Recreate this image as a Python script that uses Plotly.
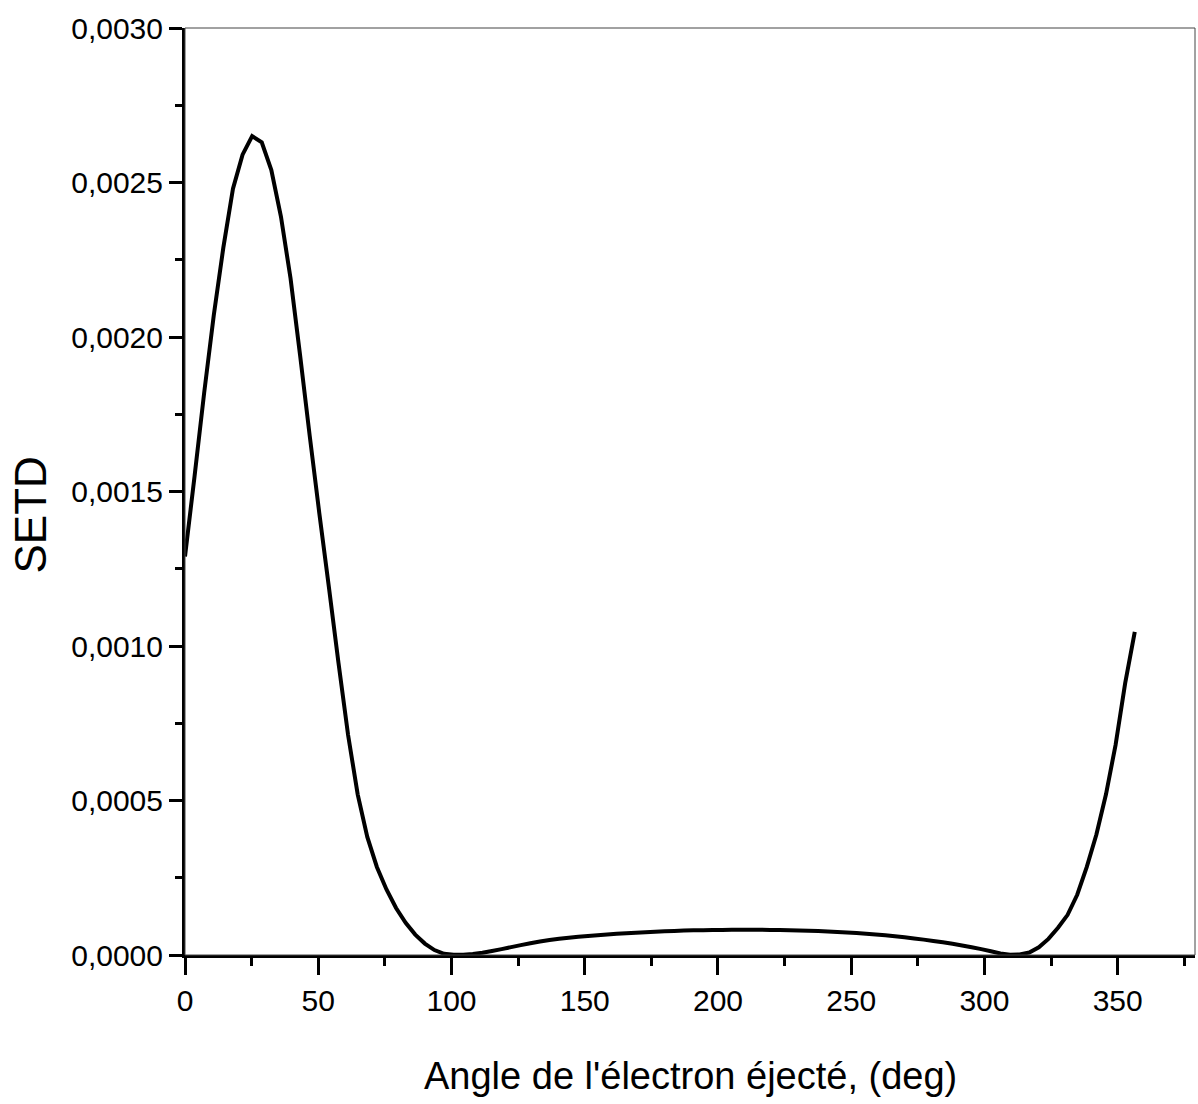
import plotly.graph_objects as go

# Angle of ejected electron (deg), sampled every 3.6 deg
angle_deg = [round(i * 3.6, 1) for i in range(100)]

# SETD values
setd = [
    0.00129, 0.00155, 0.00182, 0.00207, 0.00229, 0.00248, 0.00259, 0.00265, 0.00263, 0.00254,
    0.00239, 0.00219, 0.00194, 0.00168, 0.00143, 0.00119, 0.000945, 0.000712, 0.000520, 0.000382,
    0.000285, 0.000212, 0.000152, 0.000104, 0.000066, 0.000037, 0.000016, 0.000004, 0.0000005, 0.0000010,
    0.0000035, 0.0000075, 0.0000130, 0.0000190, 0.0000255, 0.0000320, 0.0000380, 0.0000435, 0.0000485, 0.0000525,
    0.0000560, 0.0000590, 0.0000615, 0.0000640, 0.0000665, 0.0000685, 0.0000705, 0.0000720, 0.0000740, 0.0000755,
    0.0000770, 0.0000780, 0.0000790, 0.0000798, 0.0000805, 0.0000810, 0.0000813, 0.0000815, 0.0000816, 0.0000816,
    0.0000815, 0.0000812, 0.0000808, 0.0000802, 0.0000795, 0.0000786, 0.0000775, 0.0000762, 0.0000747, 0.0000730,
    0.0000710, 0.0000688, 0.0000663, 0.0000636, 0.0000606, 0.0000573, 0.0000537, 0.0000498, 0.0000456, 0.0000411,
    0.0000363, 0.0000310, 0.0000252, 0.0000190, 0.0000120, 0.0000050, 0.0000008, 0.0000020, 0.0000080, 0.0000250,
    0.0000520, 0.0000880, 0.000130, 0.000195, 0.000285, 0.000390, 0.000520, 0.000680, 0.000880, 0.001046,
]

x_title = "Angle de l'électron éjecté, (deg)"
y_title = "SETD"

FONT = "Liberation Sans, Arial, sans-serif"

fig = go.Figure()
fig.add_trace(go.Scatter(
    x=angle_deg, y=setd, mode="lines",
    line=dict(color="black", width=4, simplify=False),
    showlegend=False,
))

fig.update_layout(
    width=1198, height=1104,
    margin=dict(l=185, r=3, t=28, b=149),
    paper_bgcolor="white", plot_bgcolor="white",
    separators=", ",
    font=dict(family=FONT, color="black"),
    xaxis=dict(
        range=[0, 379], showgrid=False, zeroline=False,
        showline=True, linecolor="black", linewidth=3,
        ticks="outside", ticklen=17, tickwidth=3, tickcolor="black",
        tick0=0, dtick=50,
        tickfont=dict(family=FONT, size=30, color="black"),
        minor=dict(ticks="outside", ticklen=8, tickwidth=3, tickcolor="black", dtick=25),
    ),
    yaxis=dict(
        range=[0, 0.003], showgrid=False, zeroline=False,
        showline=True, linecolor="black", linewidth=3,
        ticks="outside", ticklen=13, tickwidth=3, tickcolor="black",
        tick0=0, dtick=0.0005, tickformat=".4f",
        tickfont=dict(family=FONT, size=30, color="black"),
        minor=dict(ticks="outside", ticklen=7, tickwidth=3, tickcolor="black", dtick=0.00025),
    ),
    shapes=[dict(type="rect", xref="paper", yref="paper", x0=0, x1=1, y0=0, y1=1,
                 line=dict(color="#444", width=1), layer="above")],
    annotations=[
        dict(text=x_title, xref="paper", yref="paper", x=0.5, y=0, yshift=-121,
             showarrow=False, font=dict(family=FONT, size=38, color="black"),
             xanchor="center", yanchor="middle"),
        dict(text=y_title, xref="paper", yref="paper", x=0, xshift=-155, y=0.5, yshift=-24,
             showarrow=False, textangle=-90, font=dict(family=FONT, size=44, color="black"),
             xanchor="center", yanchor="middle"),
    ],
)

fig.write_html("out.html")
